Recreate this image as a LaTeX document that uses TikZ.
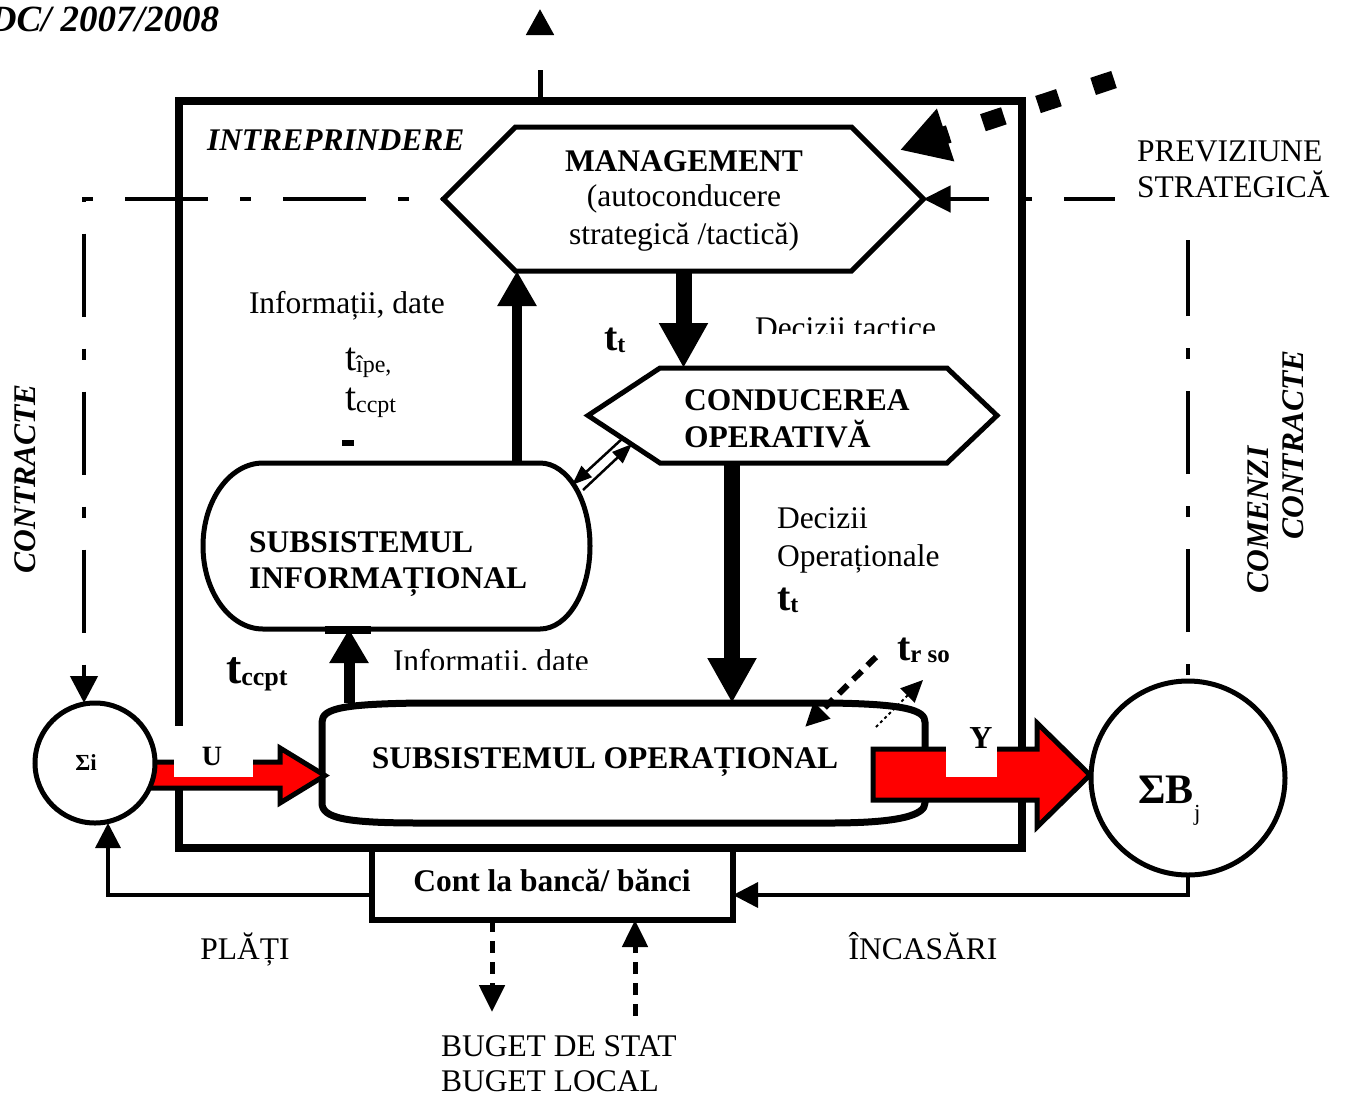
\documentclass[tikz,border=0pt]{standalone}
\usepackage{fontspec}
\setmainfont{Liberation Serif}
\usetikzlibrary{arrows.meta,calc}

% a "t" with a smaller index: #1 size of t, #2 size of index, #3 index text
\newcommand\tidx[3]{{\fontsize{#1}{#1}\selectfont t}{\fontsize{#2}{#2}\selectfont\raisebox{-2pt}{#3}}}

\begin{document}
\begin{tikzpicture}[x=1pt,y=-1pt,
  every node/.style={inner sep=0pt, outer sep=0pt},
  rm/.style={font=\fontsize{31.5}{37}\selectfont},
  bf/.style={font=\fontsize{31.5}{37}\selectfont\bfseries},
  bi/.style={font=\fontsize{31.5}{37}\selectfont\bfseries\itshape},
  shapeline/.style={line width=5pt, line join=miter},
  heavyflow/.style={line width=16pt, -{Triangle[length=45pt,width=46pt]}},
  infoflow/.style={line width=10pt, -{Triangle[length=35pt,width=37pt]}},
  dashdot/.style={line width=4.5pt, dash pattern=on 83pt off 32pt on 11pt off 32pt},
  thinflow/.style={line width=2.5pt, -{Triangle[length=20pt,width=15pt]}},
  money/.style={line width=3.5pt, -{Triangle[length=25pt,width=25pt]}},
  budget/.style={line width=5pt, dash pattern=on 12pt off 9pt, -{Triangle[length=27pt,width=25pt]}},
  redflow/.style={fill=red, draw=black, line width=5pt, line join=miter}
]
\useasboundingbox (0,0) rectangle (1349,1096);

% heading
\node[font=\fontsize{37}{40}\selectfont\bfseries\itshape, anchor=base east] at (219,31) {DC/ 2007/2008};

% enterprise frame
\node[draw, line width=8pt, minimum width=843pt, minimum height=747pt] (ent) at (600.5,474.5) {};
\node[bi, anchor=base west] at (207,150) {INTREPRINDERE};

% management hexagon
\node[minimum width=480pt, minimum height=144pt] (mg) at (683.5,199) {};
\draw[shapeline] (mg.west) -- ($(mg.north west)+(72,0)$) -- ($(mg.north east)+(-72,0)$)
  -- (mg.east) -- ($(mg.south east)+(-72,0)$) -- ($(mg.south west)+(72,0)$) -- cycle;
\node[bf, anchor=base] at (684,171) {MANAGEMENT};
\node[rm, anchor=base] at (684,206) {(autoconducere};
\node[rm, anchor=base] at (684,244) {strategică /tactică)};

% operative management hexagon
\node[minimum width=409pt, minimum height=95pt] (co) at (792.5,415.5) {};
\draw[shapeline] (co.west) -- ($(co.north west)+(72,0)$) -- ($(co.north east)+(-50,0)$)
  -- (co.east) -- ($(co.south east)+(-50,0)$) -- ($(co.south west)+(72,0)$) -- cycle;
\node[bf, anchor=base west] at (684,410) {CONDUCEREA};
\node[bf, anchor=base west] at (684,447) {OPERATIVĂ};

% information subsystem
\node[minimum width=387pt, minimum height=166pt] (inf) at (396.5,546) {};
\draw[shapeline] ($(inf.north west)+(60,0)$) -- ($(inf.north east)+(-50,0)$)
  arc[start angle=-90, end angle=90, x radius=50, y radius=83]
  -- ($(inf.south west)+(60,0)$)
  arc[start angle=90, end angle=270, x radius=60, y radius=83] -- cycle;
\fill (325,626) rectangle (371,634);
\node[bf, anchor=base west] at (249,552) {SUBSISTEMUL};
\node[bf, anchor=base west] at (249,588) {INFORMAȚIONAL};

% operational subsystem
\node[minimum width=603pt, minimum height=120pt] (op) at (623.5,763) {};
\draw[line width=7pt, line join=round] (322,722) .. controls (322,708) and (345,704) .. (420,703)
  -- (830,703) .. controls (905,704) and (925,710) .. (925,722) -- (925,803)
  .. controls (925,815) and (900,823) .. (830,823) -- (420,823)
  .. controls (345,823) and (322,818) .. (322,803) -- cycle;
\node[bf, anchor=base] at (605,768) {SUBSISTEMUL OPERAȚIONAL};

% inputs and outputs
\draw[redflow] (145,762) -- (280,762) -- (280,748) -- (325,775.5) -- (280,803) -- (280,788) -- (145,788) -- cycle;
\draw[redflow] (873,749) -- (1037,749) -- (1037,723) -- (1090,775) -- (1037,827) -- (1037,800) -- (873,800) -- cycle;
\node[fill=white, minimum width=79pt, minimum height=51pt] (ubox) at (213.5,751.5) {};
\node[font=\fontsize{28}{28}\selectfont\bfseries, anchor=base] at (212,765) {U};
\node[fill=white, minimum width=51pt, minimum height=59pt] (ybox) at (971.5,747.5) {};
\node[font=\fontsize{32}{32}\selectfont\bfseries, anchor=base] at (981,748) {Y};

% suppliers and customers
\node[circle, draw, fill=white, line width=5pt, minimum size=120pt] (si) at (95,763) {};
\node[font=\fontsize{23}{23}\selectfont\bfseries] at (86,763) {Σi};
\node[circle, draw, fill=white, line width=5pt, minimum size=194pt] (sb) at (1188,778) {};
\node[font=\fontsize{42}{42}\selectfont\bfseries, anchor=base west] at (1138,803) {ΣB};
\node[font=\fontsize{23}{23}\selectfont, anchor=base west] at (1194,820) {j};

% bank account
\node[draw, line width=6pt, minimum width=361pt, minimum height=72pt] (bk) at (552.5,884) {};
\node[bf, anchor=base] at (552,891) {Cont la bancă/ bănci};

% vertical flows
\draw[heavyflow] (mg.south) -- (mg.south |- co.north);
\coordinate (dop) at ($(co.south)+(-60.5,0)$);
\draw[heavyflow] (dop) -- (dop |- op.north);
\coordinate (iup) at ($(inf.north)+(120.5,0)$);
\draw[infoflow] (iup) -- (iup |- mg.south);
\coordinate (oup) at ($(op.north)+(-274.5,0)$);
\draw[line width=11pt, -{Triangle[length=34pt,width=37pt]}] (oup) -- (oup |- inf.south);

% exchange between information subsystem and operative management
\coordinate (coA) at (623,438);
\coordinate (infA) at (572,485);
\coordinate (infB) at (583,490);
\coordinate (coB) at (632,444);
\draw[thinflow] (coA) -- (infA);
\draw[thinflow] (infB) -- (coB);

% flow labels
\node[rm, anchor=base west] at (249,313) {Informații, date};
\node[rm, anchor=base west] at (345,370) {\tidx{40}{24}{îpe,}};
\node[rm, anchor=base west] at (345,410) {\tidx{40}{24}{ccpt}};
\fill (342,440) rectangle (354,446);
\node[bf, anchor=base west] at (604,350) {\tidx{40}{24}{t}};
\begin{scope}
  \clip (740,300) rectangle (950,333);
  \node[rm, anchor=base west] at (755,338) {Decizii tactice};
\end{scope}
\node[rm, anchor=base west] at (777,528) {Decizii};
\node[rm, anchor=base west] at (777,566) {Operaționale};
\node[bf, anchor=base west] at (777,610) {\tidx{40}{24}{t}};
\node[bf, anchor=base west] at (226,683) {\tidx{46}{26}{ccpt}};
\begin{scope}
  \clip (380,630) rectangle (620,669);
  \node[rm, anchor=base west] at (393,671) {Informații, date};
\end{scope}
\node[bf, anchor=base west] at (897,660) {\tidx{40}{25}{r so}};

% response times at the operational subsystem
\coordinate (trin) at (876,657);
\coordinate (trout) at (923,680);
\coordinate (trbase) at (876,727);
\draw[line width=6pt, dash pattern=on 12pt off 8pt, -{Triangle[length=24pt,width=22pt]}] (trin) -- (805,727);
\draw[line width=2pt, dash pattern=on 3pt off 3pt, -{Triangle[length=22pt,width=20pt]}] (trbase) -- (trout);

% contracts with suppliers
\coordinate (cl) at (84,199);
\draw[dashdot, dash phase=80pt, -{Triangle[length=27pt,width=27pt]}] (mg.west) -- (cl) -- (si.north -| cl);
\node[bi, rotate=90, anchor=base] at (35,478.5) {CONTRACTE};

% orders and contracts from customers
\draw[dashdot, dash phase=109pt, -{Triangle[length=27pt,width=26pt]}] (sb.north) -- (sb.north |- mg.east) -- (mg.east);
\node[fill=white, minimum width=230pt, minimum height=115pt] (prev) at (1230,182.5) {};
\node[rm, anchor=base west] at (1137,161) {PREVIZIUNE};
\node[rm, anchor=base west] at (1137,197) {STRATEGICĂ};
\node[bi, rotate=90, anchor=base] at (1268,520) {COMENZI};
\node[bi, rotate=90, anchor=base] at (1303,445) {CONTRACTE};

% environment influence and output to the top
\coordinate (envsrc) at (1114,79.5);
\coordinate (envtip) at (900,150);
\draw[line width=18pt, dash pattern=on 22pt off 36pt, -{Triangle[length=48pt,width=52pt]}] (envsrc) -- (envtip);
\coordinate (topc) at (540,9);
\draw[line width=5pt, dash pattern=on 31pt off 40pt, -{Triangle[length=26pt,width=27pt]}] (ent.north -| topc) -- (topc);

% payments and receipts
\coordinate (payc) at (108,895);
\draw[money] (bk.west |- payc) -- (payc) -- (payc |- si.south);
\coordinate (incc) at (1188,895);
\draw[money] (sb.south) -- (incc) -- (incc -| bk.east);
\node[rm, anchor=base] at (245,959) {PLĂȚI};
\node[rm, anchor=base] at (923,959) {ÎNCASĂRI};

% state and local budget
\coordinate (bgd) at (492,1012);
\coordinate (bgu) at (635,1016);
\draw[budget] (bgd |- bk.south) -- (bgd);
\draw[budget] (bgu) -- (bgu |- bk.south);
\node[rm, anchor=base west] at (441,1056) {BUGET DE STAT};
\node[rm, anchor=base west] at (441,1091) {BUGET LOCAL};
\end{tikzpicture}
\end{document}
